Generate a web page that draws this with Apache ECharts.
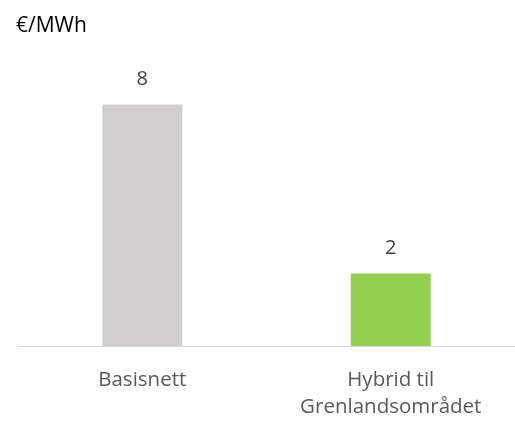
<!DOCTYPE html>
<html>
<head>
<meta charset="utf-8">
<script src="https://cdn.jsdelivr.net/npm/echarts@6/dist/echarts.min.js"></script>
<style>
  html, body { margin: 0; padding: 0; background: #fff; }
  #chart { width: 515px; height: 421px; }
</style>
</head>
<body>
<div id="chart"></div>
<script>
// Cost per MWh for the two grid alternatives
const categories = ['Basisnett', 'Hybrid til\nGrenlandsområdet'];
const values = [8.0, 2.4];
const barColors = ['#d0cece', '#92d050'];
const unitLabel = '€/MWh';

const FONT = '"Open Sans", sans-serif';

const chart = echarts.init(document.getElementById('chart'), null, { renderer: 'canvas' });
chart.setOption({
  animation: false,
  title: {
    text: unitLabel,
    left: 11,
    top: 11,
    textStyle: { fontFamily: FONT, fontSize: 21, fontWeight: 'normal', color: '#000' }
  },
  grid: { left: 18, right: -7, top: 44, bottom: 71, containLabel: false },
  xAxis: {
    type: 'category',
    data: categories,
    axisLine: { lineStyle: { color: '#d9d9d9', width: 1 } },
    axisTick: { show: false },
    axisLabel: {
      fontFamily: FONT, fontSize: 20.5, color: '#595959',
      lineHeight: 27, margin: 21
    }
  },
  yAxis: {
    type: 'value',
    min: 0,
    max: 10,
    show: false
  },
  series: [{
    type: 'bar',
    barWidth: 80,
    data: values.map((v, i) => ({ value: v, itemStyle: { color: barColors[i] } })),
    label: {
      show: true,
      position: 'top',
      distance: 15,
      fontFamily: FONT,
      fontSize: 20,
      color: '#404040',
      formatter: p => Math.round(p.value).toString()
    }
  }]
});
</script>
</body>
</html>
